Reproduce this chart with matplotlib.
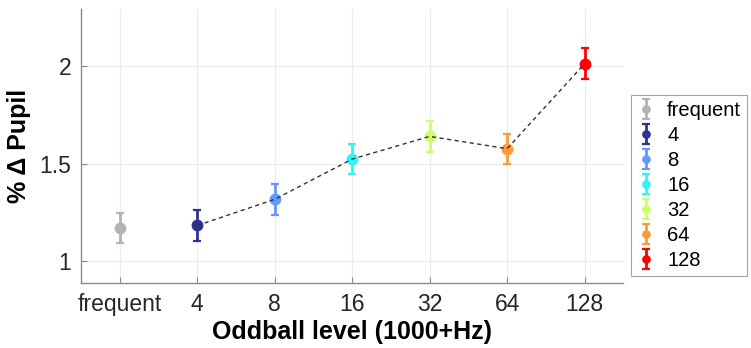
import numpy as np
import matplotlib.pyplot as plt

# mean pupil change per oddball level, with error (SEM)
levels = ["frequent", "4", "8", "16", "32", "64", "128"]
pupil_mean = [1.172, 1.184, 1.318, 1.524, 1.640, 1.577, 2.012]
pupil_err = [0.078, 0.078, 0.078, 0.078, 0.080, 0.077, 0.080]
level_colors = ["#b3b3b3", "#2e3192", "#6199ff", "#2ef5f5",
                "#ccff66", "#ff9a3c", "#ff0000"]

plt.rcParams["font.family"] = ["Liberation Sans", "DejaVu Sans"]

fig = plt.figure(figsize=(7.51, 3.48), dpi=100)
ax = fig.add_axes([0.108, 0.187, 0.722, 0.786])

x = np.arange(1, len(levels) + 1)

for xi, m, e, c, lab in zip(x, pupil_mean, pupil_err, level_colors, levels):
    ax.errorbar(xi, m, yerr=e, fmt="o", color=c, ecolor=c, markersize=7.5,
                elinewidth=2, capsize=3, capthick=1.6, label=lab, zorder=3)

# dashed trend through the oddball levels only
ax.plot(x[1:], pupil_mean[1:], linestyle=(0, (3, 2.5)), color="#333333",
        linewidth=1, zorder=4)

ax.set_xlim(0.5, 7.5)
ax.set_ylim(0.89, 2.29)
ax.set_xticks(x)
ax.set_xticklabels(levels)
ax.set_yticks([1, 1.5, 2])
ax.set_yticklabels(["1", "1.5", "2"])

ax.grid(True, color="#ebebeb", linewidth=0.8)
ax.set_axisbelow(True)
for side in ["top", "right"]:
    ax.spines[side].set_visible(False)
for side in ["left", "bottom"]:
    ax.spines[side].set_color("#8c8c8c")
    ax.spines[side].set_linewidth(1)
ax.tick_params(direction="in", length=4, color="#8c8c8c", labelsize=16.5,
               labelcolor="#262626", pad=7)

ax.set_xlabel("Oddball level (1000+Hz)", fontsize=18, fontweight="bold",
              labelpad=3)
ax.set_ylabel("% Δ Pupil", fontsize=18, fontweight="bold", labelpad=6)

leg = ax.legend(loc="center left", bbox_to_anchor=(1.014, 0.355), fontsize=14.5,
                frameon=True, fancybox=False, edgecolor="#8c8c8c",
                markerscale=0.7, handlelength=0.9, handletextpad=0.6,
                labelspacing=0.3, borderpad=0.3, borderaxespad=0)
leg.get_frame().set_linewidth(0.8)

fig.savefig("out.png", dpi=100)
